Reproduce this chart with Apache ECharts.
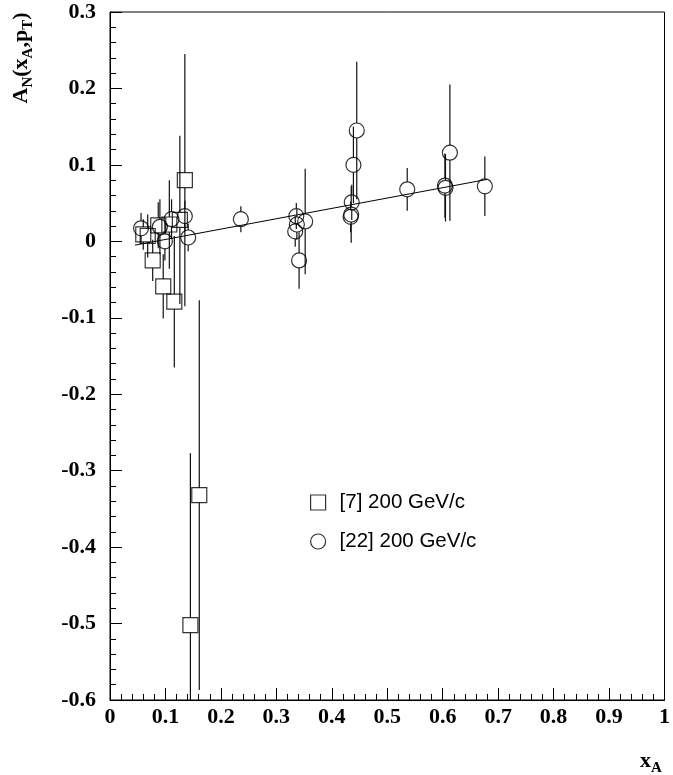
<!DOCTYPE html>
<html>
<head>
<meta charset="utf-8">
<script src="https://cdn.jsdelivr.net/npm/echarts@6/dist/echarts.min.js"></script>
<style>
  html, body { margin: 0; padding: 0; background: #fff; }
  #chart { width: 673px; height: 775px; }
</style>
</head>
<body>
<div id="chart"></div>
<script>
// Tick labels
const xTickLabels = ['0', '0.1', '0.2', '0.3', '0.4', '0.5', '0.6', '0.7', '0.8', '0.9', '1'];
const yTickLabels = ['-0.6', '-0.5', '-0.4', '-0.3', '-0.2', '-0.1', '0', '0.1', '0.2', '0.3'];

// Series names
const nameSet7 = '[7] 200 GeV/c';
const nameSet22 = '[22] 200 GeV/c';

// [7] 200 GeV/c (open squares)
const set7X   = [0.060, 0.068, 0.077, 0.087, 0.096, 0.107, 0.116, 0.126, 0.135, 0.145, 0.161];
const set7Y   = [0.009, 0.007, -0.025, 0.021, -0.059, 0.022, -0.079, 0.028, 0.080, -0.502, -0.332];
const set7Err = [0.020, 0.028, 0.027, 0.030, 0.042, 0.058, 0.086, 0.110, 0.165, 0.225, 0.255];

// [22] 200 GeV/c (open circles)
const set22X   = [0.056, 0.090, 0.099, 0.111, 0.135, 0.141, 0.236, 0.334, 0.336, 0.337, 0.341, 0.352,
                  0.434, 0.435, 0.436, 0.439, 0.445, 0.536, 0.604, 0.605, 0.613, 0.676];
const set22Y   = [0.017, 0.019, 0.000, 0.029, 0.033, 0.005, 0.029, 0.013, 0.033, 0.022, -0.025, 0.026,
                  0.032, 0.035, 0.051, 0.100, 0.145, 0.068, 0.073, 0.070, 0.116, 0.072];
const set22Err = [0.020, 0.036, 0.025, 0.026, 0.020, 0.018, 0.017, 0.020, 0.017, 0.020, 0.037, 0.069,
                  0.020, 0.037, 0.023, 0.050, 0.090, 0.028, 0.042, 0.044, 0.089, 0.039];

// Straight-line fit
const fitX = [0.045, 0.680];
const fitY = [-0.005, 0.081];

const MARK = 15;
const serif = '"Liberation Serif", "Times New Roman", serif';
const sans = '"Liberation Sans", Arial, sans-serif';

function triples(xs, ys, es) { return xs.map((x, i) => [x, ys[i], es[i]]); }
function pairs(xs, ys) { return xs.map((x, i) => [x, ys[i]]); }

// Vertical error bar that stops at the marker's edge, clipped to the frame
function errorBar(params, api) {
  const x = api.value(0), y = api.value(1), e = api.value(2);
  const c = api.coord([x, y]);
  const hi = api.coord([x, y + e]);
  const lo = api.coord([x, y - e]);
  const cs = params.coordSys;
  const top = cs.y, bottom = cs.y + cs.height;
  const gap = MARK / 2;
  const style = { stroke: '#111', lineWidth: 1.2 };
  const kids = [];
  const y1 = Math.max(hi[1], top), y2 = c[1] - gap;
  if (y2 > y1) kids.push({ type: 'line', shape: { x1: c[0], y1: y1, x2: c[0], y2: y2 }, style });
  const y3 = c[1] + gap, y4 = Math.min(lo[1], bottom);
  if (y4 > y3) kids.push({ type: 'line', shape: { x1: c[0], y1: y3, x2: c[0], y2: y4 }, style });
  return { type: 'group', children: kids };
}

const hollow = { color: 'rgba(0,0,0,0)', borderColor: '#000', borderWidth: 1.2 };

const chart = echarts.init(document.getElementById('chart'), null, { renderer: 'canvas' });
chart.setOption({
  animation: false,
  backgroundColor: '#fff',
  grid: {
    left: 110, right: 6, top: 12, bottom: 75,
    show: true, borderColor: '#000', borderWidth: 1, backgroundColor: 'rgba(0,0,0,0)'
  },
  xAxis: {
    type: 'value', min: 0, max: 1, interval: 0.1,
    axisLine: { show: true, onZero: false, lineStyle: { color: '#000', width: 1 } },
    axisTick: { show: true, inside: true, length: 12, lineStyle: { color: '#000', width: 1 } },
    minorTick: { show: true, splitNumber: 5, length: 6, lineStyle: { color: '#000', width: 1 } },
    splitLine: { show: false },
    axisLabel: {
      margin: 6, color: '#000', fontFamily: serif, fontWeight: 'bold', fontSize: 22,
      showMinLabel: true, showMaxLabel: true,
      formatter: v => xTickLabels[Math.round(v * 10)]
    }
  },
  yAxis: {
    type: 'value', min: -0.6, max: 0.3, interval: 0.1,
    axisLine: { show: true, onZero: false, lineStyle: { color: '#000', width: 1 } },
    axisTick: { show: true, inside: true, length: 12, lineStyle: { color: '#000', width: 1 } },
    minorTick: { show: true, splitNumber: 5, length: 6, lineStyle: { color: '#000', width: 1 } },
    splitLine: { show: false },
    axisLabel: {
      margin: 14, color: '#000', fontFamily: serif, fontWeight: 'bold', fontSize: 22,
      showMinLabel: true, showMaxLabel: true,
      formatter: v => yTickLabels[Math.round(v * 10) + 6]
    }
  },
  legend: {
    orient: 'vertical', left: 305, top: 487,
    itemWidth: 15, itemHeight: 15, itemGap: 18,
    selectedMode: false,
    textStyle: { fontFamily: sans, fontSize: 20.5, color: '#000', padding: [0, 0, 0, 9] },
    data: [
      { name: nameSet7, icon: 'rect', itemStyle: hollow },
      { name: nameSet22, icon: 'circle', itemStyle: hollow }
    ]
  },
  graphic: [
    {
      type: 'text', x: 21, y: 58, rotation: Math.PI / 2,
      style: {
        text: '{m|A}{s|N}{m|(x}{s|A}{m|,p}{s|T}{m|)}',
        align: 'center', verticalAlign: 'middle',
        rich: {
          m: { fontFamily: serif, fontWeight: 'bold', fontSize: 22, lineHeight: 30, verticalAlign: 'middle', fill: '#000' },
          s: { fontFamily: serif, fontWeight: 'bold', fontSize: 15, lineHeight: 30, verticalAlign: 'bottom', fill: '#000' }
        }
      }
    },
    {
      type: 'text', x: 651, y: 761,
      style: {
        text: '{m|x}{s|A}',
        align: 'center', verticalAlign: 'middle',
        rich: {
          m: { fontFamily: serif, fontWeight: 'bold', fontSize: 22, lineHeight: 30, verticalAlign: 'middle', fill: '#000' },
          s: { fontFamily: serif, fontWeight: 'bold', fontSize: 15, lineHeight: 30, verticalAlign: 'bottom', fill: '#000' }
        }
      }
    }
  ],
  series: [
    {
      type: 'line', name: 'fit', data: pairs(fitX, fitY),
      showSymbol: false, symbol: 'none', silent: true,
      lineStyle: { color: '#000', width: 1 }, z: 1
    },
    {
      type: 'custom', name: nameSet7 + ' err', renderItem: errorBar,
      data: triples(set7X, set7Y, set7Err), encode: { x: 0, y: 1 }, silent: true, z: 2
    },
    {
      type: 'custom', name: nameSet22 + ' err', renderItem: errorBar,
      data: triples(set22X, set22Y, set22Err), encode: { x: 0, y: 1 }, silent: true, z: 2
    },
    {
      type: 'scatter', name: nameSet7, data: pairs(set7X, set7Y),
      symbol: 'rect', symbolSize: MARK, itemStyle: hollow, z: 3
    },
    {
      type: 'scatter', name: nameSet22, data: pairs(set22X, set22Y),
      symbol: 'circle', symbolSize: MARK, itemStyle: hollow, z: 3
    }
  ]
});
</script>
</body>
</html>
